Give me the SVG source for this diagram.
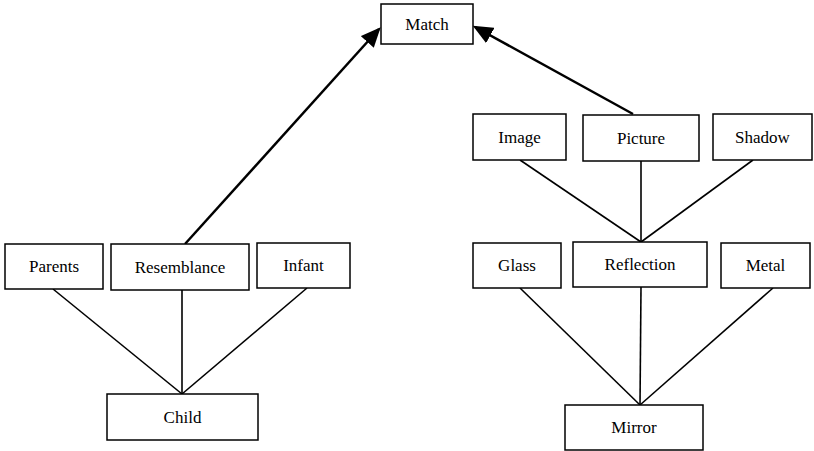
<svg xmlns="http://www.w3.org/2000/svg" width="814" height="451" viewBox="0 0 814 451">
<style>
rect{fill:#fff;stroke:#000;stroke-width:1.5}
.c line{stroke:#000;stroke-width:1.6}
.c .a{stroke-width:2.5}
</style>
<defs>
<marker id="ah" markerWidth="8" markerHeight="7" refX="7" refY="3.5" orient="auto" markerUnits="strokeWidth">
<path d="M0,0 L8,3.5 L0,7 Z" fill="#000"/>
</marker>
</defs>
<g class="c" id="connectors">
<line class="a" x1="185" y1="244" x2="379" y2="29" marker-end="url(#ah)"/>
<line class="a" x1="633" y1="114" x2="475" y2="27" marker-end="url(#ah)"/>
<line x1="53" y1="289" x2="182" y2="394"/>
<line x1="182" y1="290" x2="182" y2="394"/>
<line x1="307" y1="288" x2="182" y2="394"/>
<line x1="520" y1="160" x2="641" y2="242"/>
<line x1="641" y1="161" x2="641" y2="242"/>
<line x1="753" y1="160" x2="641" y2="242"/>
<line x1="520" y1="288" x2="640" y2="405"/>
<line x1="641" y1="287" x2="640" y2="405"/>
<line x1="773" y1="288" x2="640" y2="405"/>
</g>
<g font-family="Liberation Serif, Times New Roman, serif" font-size="17" text-anchor="middle" fill="#000">
<g id="match"><rect x="381" y="4" width="92" height="40"/><text x="427" y="30">Match</text></g>
<g id="image"><rect x="473" y="114" width="93" height="46"/><text x="519.5" y="143">Image</text></g>
<g id="picture"><rect x="583" y="115" width="116" height="46"/><text x="641" y="144">Picture</text></g>
<g id="shadow"><rect x="713" y="114" width="99" height="46"/><text x="762.5" y="143">Shadow</text></g>
<g id="parents"><rect x="5" y="244" width="98" height="45"/><text x="54" y="272">Parents</text></g>
<g id="resemblance"><rect x="111" y="244" width="138" height="46"/><text x="180" y="273">Resemblance</text></g>
<g id="infant"><rect x="257" y="243" width="93" height="45"/><text x="303.5" y="271">Infant</text></g>
<g id="glass"><rect x="473" y="243" width="88" height="45"/><text x="517" y="271">Glass</text></g>
<g id="reflection"><rect x="573" y="242" width="134" height="45"/><text x="640" y="270">Reflection</text></g>
<g id="metal"><rect x="721" y="243" width="89" height="45"/><text x="765.5" y="271">Metal</text></g>
<g id="child"><rect x="107" y="394" width="151" height="46"/><text x="182.5" y="423">Child</text></g>
<g id="mirror"><rect x="565" y="405" width="138" height="45"/><text x="634" y="433">Mirror</text></g>
</g>
</svg>
